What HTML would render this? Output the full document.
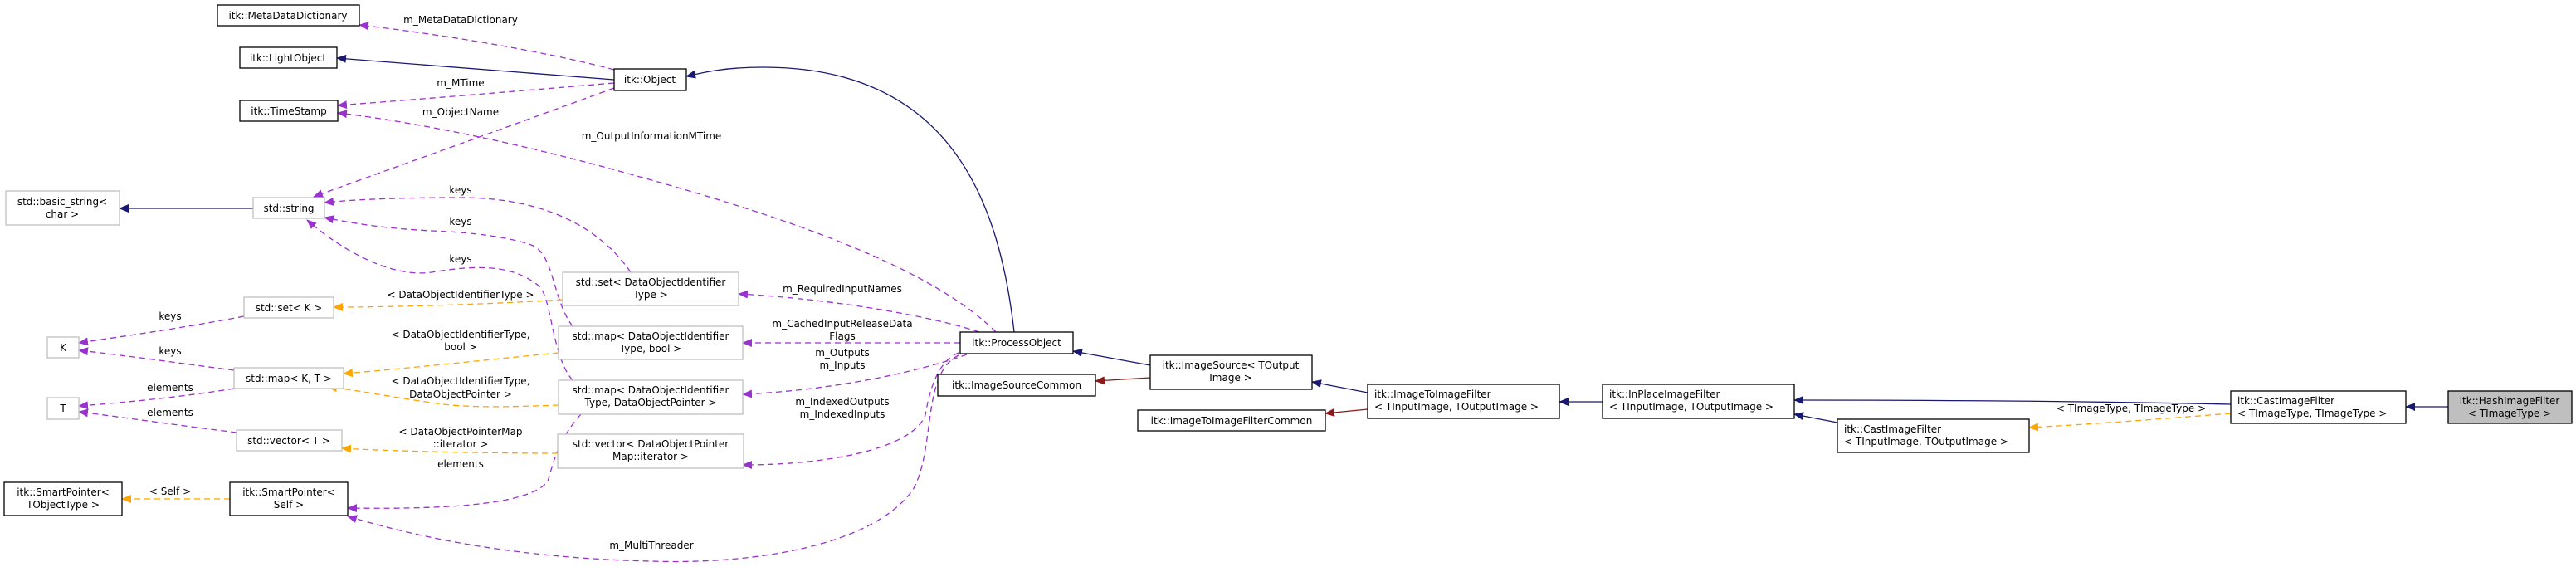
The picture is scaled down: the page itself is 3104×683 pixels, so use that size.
<!DOCTYPE html>
<html><head><meta charset="utf-8"><style>
html,body{margin:0;padding:0;background:#fff;}
svg{display:block;}
text{font-family:"DejaVu Sans","Liberation Sans",sans-serif;font-size:12px;fill:#000;}
.b{fill:#fff;stroke:#000;stroke-width:1.3;}
.g{fill:#fff;stroke:#bfbfbf;stroke-width:1.3;}
.n{fill:none;stroke:#191970;stroke-width:1.3;}
.r{fill:none;stroke:#8b1a1a;stroke-width:1.3;}
.o{fill:none;stroke:#ffa500;stroke-width:1.3;stroke-dasharray:7,5;}
.p{fill:none;stroke:#9a32cd;stroke-width:1.3;stroke-dasharray:7,5;}
</style></head><body>
<svg width="3104" height="683" viewBox="0 0 3104 683" xmlns="http://www.w3.org/2000/svg">
<defs>
<marker id="mn" markerWidth="12" markerHeight="10" refX="11" refY="5" orient="auto" markerUnits="userSpaceOnUse"><path d="M0,0 L12,5 L0,10 z" fill="#191970"/></marker>
<marker id="mr" markerWidth="12" markerHeight="10" refX="11" refY="5" orient="auto" markerUnits="userSpaceOnUse"><path d="M0,0 L12,5 L0,10 z" fill="#8b1a1a"/></marker>
<marker id="mo" markerWidth="12" markerHeight="10" refX="11" refY="5" orient="auto" markerUnits="userSpaceOnUse"><path d="M0,0 L12,5 L0,10 z" fill="#ffa500"/></marker>
<marker id="mp" markerWidth="12" markerHeight="10" refX="11" refY="5" orient="auto" markerUnits="userSpaceOnUse"><path d="M0,0 L12,5 L0,10 z" fill="#9a32cd"/></marker>
</defs>

<path class="n" d="M740,96 L406,70" marker-end="url(#mn)"/>
<path class="n" d="M1222,400 C1205,250 1150,81 920,81 C870,81 845,88 827,92" marker-end="url(#mn)"/>
<path class="n" d="M305,251 L144,251" marker-end="url(#mn)"/>
<path class="n" d="M1386,440 L1293,423" marker-end="url(#mn)"/>
<path class="n" d="M1648,473 L1581,460" marker-end="url(#mn)"/>
<path class="n" d="M1931,484 L1879,484" marker-end="url(#mn)"/>
<path class="n" d="M2688,487 C2500,483 2300,482 2162,482" marker-end="url(#mn)"/>
<path class="n" d="M2214,509 L2162,499" marker-end="url(#mn)"/>
<path class="n" d="M2950,490 L2899,490" marker-end="url(#mn)"/>
<path class="r" d="M1386,455 L1320,459" marker-end="url(#mr)"/>
<path class="r" d="M1648,493 L1597,498" marker-end="url(#mr)"/>
<path class="o" d="M678,361 C600,366 480,370 402,370" marker-end="url(#mo)"/>
<path class="o" d="M673,425 C600,432 480,445 414,450" marker-end="url(#mo)"/>
<path class="o" d="M673,488 C620,490 560,492 520,485 C470,478 430,470 395,466" marker-end="url(#mo)"/>
<path class="o" d="M672,546 C600,546 480,544 412,540" marker-end="url(#mo)"/>
<path class="o" d="M277,601 L147,601" marker-end="url(#mo)"/>
<path class="o" d="M2688,498 C2600,505 2520,511 2445,515" marker-end="url(#mo)"/>
<path class="p" d="M740,84 C650,60 520,40 433,30" marker-end="url(#mp)"/>
<path class="p" d="M740,100 C620,110 500,120 407,127" marker-end="url(#mp)"/>
<path class="p" d="M1200,400 C1130,330 980,270 760,210 C600,165 470,143 407,136" marker-end="url(#mp)"/>
<path class="p" d="M740,106 C620,150 480,200 378,237" marker-end="url(#mp)"/>
<path class="p" d="M760,328 C720,270 650,238 555,238 C470,238 420,241 391,244" marker-end="url(#mp)"/>
<path class="p" d="M690,393 C665,360 668,305 640,295 C610,285 570,280 520,278 C460,275 420,268 391,262" marker-end="url(#mp)"/>
<path class="p" d="M690,458 C665,430 665,360 650,345 C620,320 580,318 520,328 C470,335 410,300 370,265" marker-end="url(#mp)"/>
<path class="p" d="M294,381 C220,395 150,405 95,413" marker-end="url(#mp)"/>
<path class="p" d="M282,446 C220,438 150,428 95,422" marker-end="url(#mp)"/>
<path class="p" d="M282,468 C220,478 150,485 95,489" marker-end="url(#mp)"/>
<path class="p" d="M285,521 C220,513 150,503 95,496" marker-end="url(#mp)"/>
<path class="p" d="M700,499 C672,530 666,560 660,580 C640,605 560,614 419,612" marker-end="url(#mp)"/>
<path class="p" d="M1180,400 C1120,380 1000,360 890,354" marker-end="url(#mp)"/>
<path class="p" d="M1157,413 L895,413" marker-end="url(#mp)"/>
<path class="p" d="M1165,427 C1100,450 1000,470 895,475" marker-end="url(#mp)"/>
<path class="p" d="M1155,425 C1130,435 1120,470 1115,500 C1100,540 1000,560 895,560" marker-end="url(#mp)"/>
<path class="p" d="M1155,428 C1110,450 1128,540 1100,590 C1050,660 900,680 785,676 C600,672 480,640 419,622" marker-end="url(#mp)"/>

<g text-anchor="middle">
<text x="555" y="28">m_MetaDataDictionary</text>
<text x="555" y="104">m_MTime</text>
<text x="555" y="139">m_ObjectName</text>
<text x="785" y="168">m_OutputInformationMTime</text>
<text x="555" y="233">keys</text>
<text x="555" y="271">keys</text>
<text x="555" y="316">keys</text>
<text x="555" y="359">&lt; DataObjectIdentifierType &gt;</text>
<text x="555" y="407">&lt; DataObjectIdentifierType,</text>
<text x="555" y="422">bool &gt;</text>
<text x="555" y="463">&lt; DataObjectIdentifierType,</text>
<text x="555" y="479">DataObjectPointer &gt;</text>
<text x="555" y="524">&lt; DataObjectPointerMap</text>
<text x="555" y="539">::iterator &gt;</text>
<text x="555" y="563">elements</text>
<text x="205" y="385">keys</text>
<text x="205" y="427">keys</text>
<text x="205" y="471">elements</text>
<text x="205" y="501">elements</text>
<text x="205" y="596">&lt; Self &gt;</text>
<text x="785" y="661">m_MultiThreader</text>
<text x="1015" y="352">m_RequiredInputNames</text>
<text x="1015" y="394">m_CachedInputReleaseData</text>
<text x="1015" y="409">Flags</text>
<text x="1015" y="429">m_Outputs</text>
<text x="1015" y="444">m_Inputs</text>
<text x="1015" y="488">m_IndexedOutputs</text>
<text x="1015" y="503">m_IndexedInputs</text>
<text x="2568" y="496">&lt; TImageType, TImageType &gt;</text>
</g>

<g text-anchor="middle">
<rect class="b" x="262" y="6" width="171" height="25"/><text x="347" y="23">itk::MetaDataDictionary</text>
<rect class="b" x="289" y="57" width="117" height="25"/><text x="347" y="74">itk::LightObject</text>
<rect class="b" x="289" y="121" width="118" height="25"/><text x="348" y="138">itk::TimeStamp</text>
<rect class="b" x="740" y="83" width="87" height="26"/><text x="783" y="100">itk::Object</text>
<rect class="g" x="7" y="230" width="137" height="41"/><text x="75" y="247">std::basic_string&lt;</text><text x="75" y="262">char &gt;</text>
<rect class="g" x="305" y="238" width="86" height="25"/><text x="348" y="255">std::string</text>
<rect class="g" x="294" y="358" width="108" height="25"/><text x="348" y="375">std::set&lt; K &gt;</text>
<rect class="g" x="57" y="406" width="38" height="25"/><text x="76" y="423">K</text>
<rect class="g" x="282" y="443" width="132" height="25"/><text x="348" y="460">std::map&lt; K, T &gt;</text>
<rect class="g" x="57" y="479" width="38" height="26"/><text x="76" y="496">T</text>
<rect class="g" x="285" y="518" width="127" height="25"/><text x="348" y="535">std::vector&lt; T &gt;</text>
<rect class="b" x="5" y="581" width="142" height="40"/><text x="76" y="597">itk::SmartPointer&lt;</text><text x="76" y="612">TObjectType &gt;</text>
<rect class="b" x="277" y="581" width="142" height="40"/><text x="348" y="597">itk::SmartPointer&lt;</text><text x="348" y="612">Self &gt;</text>
<rect class="g" x="678" y="328" width="212" height="40"/><text x="784" y="344">std::set&lt; DataObjectIdentifier</text><text x="784" y="359">Type &gt;</text>
<rect class="g" x="673" y="393" width="222" height="40"/><text x="784" y="409">std::map&lt; DataObjectIdentifier</text><text x="784" y="424">Type, bool &gt;</text>
<rect class="g" x="673" y="458" width="222" height="41"/><text x="784" y="474">std::map&lt; DataObjectIdentifier</text><text x="784" y="489">Type, DataObjectPointer &gt;</text>
<rect class="g" x="672" y="523" width="224" height="41"/><text x="784" y="539">std::vector&lt; DataObjectPointer</text><text x="784" y="554">Map::iterator &gt;</text>
<rect class="b" x="1157" y="400" width="136" height="26"/><text x="1225" y="417">itk::ProcessObject</text>
<rect class="b" x="1130" y="451" width="190" height="26"/><text x="1225" y="468">itk::ImageSourceCommon</text>
<rect class="b" x="1386" y="428" width="195" height="41"/><text x="1483" y="444">itk::ImageSource&lt; TOutput</text><text x="1483" y="459">Image &gt;</text>
<rect class="b" x="1371" y="494" width="226" height="25"/><text x="1484" y="511">itk::ImageToImageFilterCommon</text>
</g>
<rect class="b" x="1648" y="463" width="231" height="41"/><text x="1656" y="479">itk::ImageToImageFilter</text><text x="1656" y="494">&lt; TInputImage, TOutputImage &gt;</text>
<rect class="b" x="1931" y="463" width="231" height="41"/><text x="1939" y="479">itk::InPlaceImageFilter</text><text x="1939" y="494">&lt; TInputImage, TOutputImage &gt;</text>
<rect class="b" x="2214" y="505" width="231" height="40"/><text x="2222" y="521">itk::CastImageFilter</text><text x="2222" y="536">&lt; TInputImage, TOutputImage &gt;</text>
<rect class="b" x="2688" y="471" width="211" height="39"/><text x="2696" y="487">itk::CastImageFilter</text><text x="2696" y="502">&lt; TImageType, TImageType &gt;</text>
<rect x="2950" y="471" width="149" height="39" fill="#bfbfbf" stroke="#000" stroke-width="1.3"/>
<g text-anchor="middle"><text x="3024" y="487">itk::HashImageFilter</text><text x="3024" y="502">&lt; TImageType &gt;</text></g>
</svg>
</body></html>
